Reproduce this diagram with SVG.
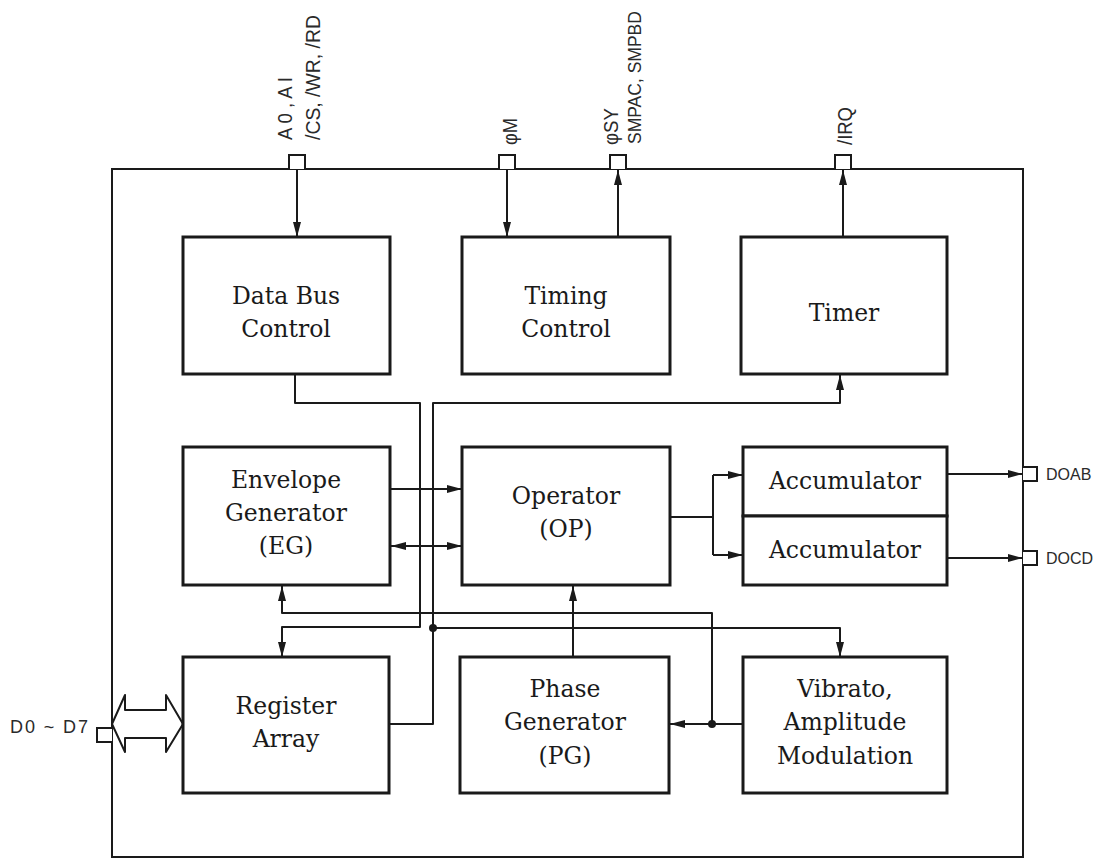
<svg xmlns="http://www.w3.org/2000/svg" width="1100" height="860" viewBox="0 0 1100 860">
<defs>
<marker id="ah" viewBox="0 0 15 8" refX="15" refY="4" markerWidth="15" markerHeight="8" markerUnits="userSpaceOnUse" orient="auto-start-reverse">
<path d="M0,0 L15,4 L0,8 z" fill="#1a1a1a"/>
</marker>
<style>
.box{fill:#fff;stroke:#1a1a1a;stroke-width:3}
.lbl{font-family:"DejaVu Serif","Liberation Serif",serif;font-size:23.5px;fill:#1a1a1a;text-anchor:middle}
.pin{fill:#fff;stroke:#1a1a1a;stroke-width:2}
.sig{font-family:"Liberation Sans",Arial,sans-serif;font-size:20px;fill:#2a2a2a}
.c{fill:none;stroke:#1a1a1a;stroke-width:2;stroke-linejoin:round}
.a{marker-end:url(#ah)}
</style>
</defs>
<rect width="1100" height="860" fill="#fff"/>
<g id="chip">
<rect x="112" y="169" width="911" height="688" fill="none" stroke="#1a1a1a" stroke-width="2"/>
</g>
<g id="pins">
<path class="pin" d="M289,169 V155 H305 V169"/>
<path class="pin" d="M499,169 V155 H515 V169"/>
<path class="pin" d="M610,169 V155 H626 V169"/>
<path class="pin" d="M835,169 V155 H851 V169"/>
<path class="pin" d="M1023,467 H1037 V481 H1023"/>
<path class="pin" d="M1023,551 H1037 V565 H1023"/>
<path class="pin" d="M112,728 H97 V742 H112"/>
<text class="sig" transform="translate(292,140) rotate(-90)" textLength="63" lengthAdjust="spacingAndGlyphs">A 0 , A I</text>
<text class="sig" transform="translate(320,140) rotate(-90)" textLength="125" lengthAdjust="spacingAndGlyphs">/CS, /WR, /RD</text>
<text class="sig" transform="translate(517,145) rotate(-90)" textLength="27" lengthAdjust="spacingAndGlyphs">φM</text>
<text class="sig" transform="translate(618,145) rotate(-90)" textLength="37" lengthAdjust="spacingAndGlyphs">φSY</text>
<text class="sig" transform="translate(641,144) rotate(-90)" style="font-size:17.5px">SMPAC, SMPBD</text>
<text class="sig" transform="translate(852,145) rotate(-90)" textLength="38" lengthAdjust="spacingAndGlyphs">/IRQ</text>
<text class="sig" x="1046" y="480" style="font-size:16px">DOAB</text>
<text class="sig" x="1046" y="564" style="font-size:16px">DOCD</text>
<text class="sig" x="10" y="733" style="font-size:18px" textLength="78" lengthAdjust="spacing">D0 ~ D7</text>
</g>
<g id="connectors">
<path class="c a" d="M297,169 V237"/>
<path class="c a" d="M507,169 V237"/>
<path class="c a" d="M618,237 V170"/>
<path class="c a" d="M843,237 V170"/>
<path class="c a" d="M295,374 V403 H420 V627 H282 V657"/>
<path class="c a" d="M389,724 H433 V403 H840 V375"/>
<path class="c a" d="M433,628 H840 V657"/>
<path class="c a" d="M743,724 H670"/>
<path class="c a" d="M712,724 V613 H282 V586"/>
<path class="c a" d="M390,489 H462"/>
<path class="c a" d="M391,546 H462" marker-start="url(#ah)"/>
<path class="c a" d="M573,657 V586"/>
<path class="c" d="M670,517 H713 M713,475 V555"/>
<path class="c a" d="M713,475 H743"/>
<path class="c a" d="M713,555 H743"/>
<path class="c a" d="M947,474 H1023"/>
<path class="c a" d="M947,558 H1023"/>
<circle cx="433" cy="628" r="4" fill="#1a1a1a"/>
<circle cx="712" cy="724" r="4" fill="#1a1a1a"/>
<polygon points="112,724 125,695 125,710 166,710 166,695 183,724 166,752 166,738 125,738 125,752" fill="#fff" stroke="#1a1a1a" stroke-width="2" stroke-linejoin="round"/>
</g>
<g id="dbc">
<rect class="box" x="183" y="237" width="207" height="137"/>
<text class="lbl" x="286" y="304">Data Bus</text>
<text class="lbl" x="286" y="337">Control</text>
</g>
<g id="tc">
<rect class="box" x="462" y="237" width="208" height="137"/>
<text class="lbl" x="566" y="304">Timing</text>
<text class="lbl" x="566" y="337">Control</text>
</g>
<g id="timer">
<rect class="box" x="741" y="237" width="206" height="137"/>
<text class="lbl" x="844" y="321">Timer</text>
</g>
<g id="eg">
<rect class="box" x="183" y="447" width="207" height="138"/>
<text class="lbl" x="286" y="488">Envelope</text>
<text class="lbl" x="286" y="521">Generator</text>
<text class="lbl" x="286" y="554">(EG)</text>
</g>
<g id="op">
<rect class="box" x="462" y="447" width="208" height="138"/>
<text class="lbl" x="566" y="504">Operator</text>
<text class="lbl" x="566" y="537">(OP)</text>
</g>
<g id="acc1">
<rect class="box" x="743" y="447" width="204" height="69"/>
<text class="lbl" x="845" y="489">Accumulator</text>
</g>
<g id="acc2">
<rect class="box" x="743" y="516" width="204" height="69"/>
<text class="lbl" x="845" y="558">Accumulator</text>
</g>
<g id="ra">
<rect class="box" x="183" y="657" width="206" height="136"/>
<text class="lbl" x="286" y="714">Register</text>
<text class="lbl" x="286" y="747">Array</text>
</g>
<g id="pg">
<rect class="box" x="460" y="657" width="209" height="136"/>
<text class="lbl" x="565" y="697">Phase</text>
<text class="lbl" x="565" y="730">Generator</text>
<text class="lbl" x="565" y="764">(PG)</text>
</g>
<g id="vam">
<rect class="box" x="743" y="657" width="204" height="136"/>
<text class="lbl" x="845" y="697">Vibrato,</text>
<text class="lbl" x="845" y="730">Amplitude</text>
<text class="lbl" x="845" y="764">Modulation</text>
</g>
</svg>
